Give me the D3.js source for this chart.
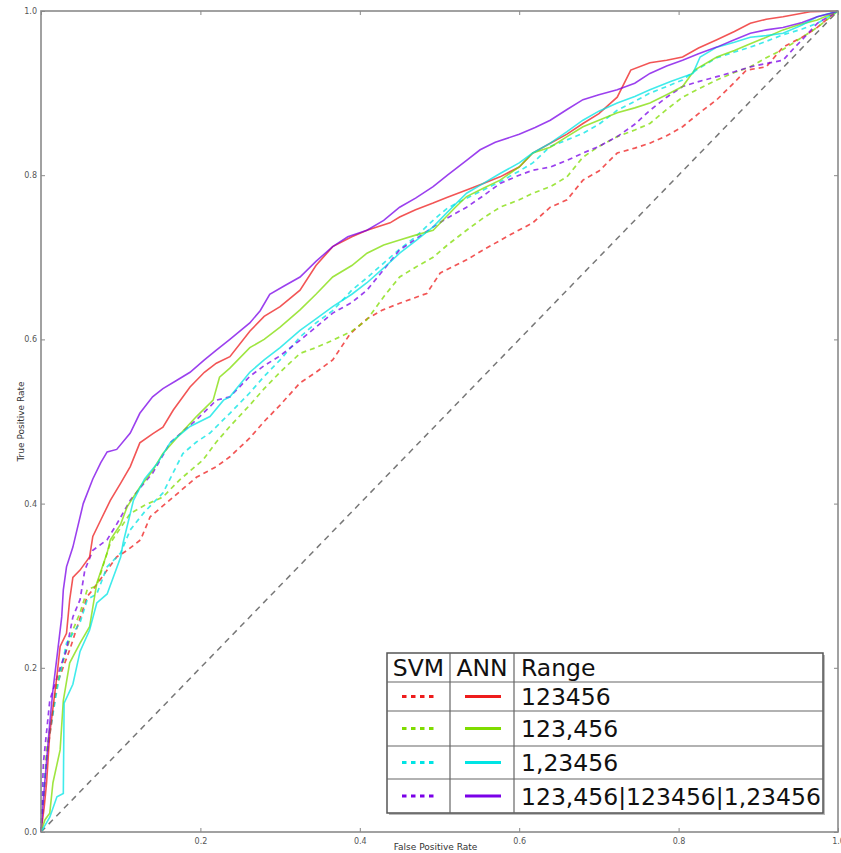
<!DOCTYPE html>
<html>
<head>
<meta charset="utf-8">
<script src="https://cdn.jsdelivr.net/npm/d3@7"></script>
<style>
  html, body { margin: 0; padding: 0; background: #fff; }
  svg { display: block; font-family: "DejaVu Sans", sans-serif; }
</style>
</head>
<body>
<svg id="chart" width="841" height="853"></svg>
<script>
// ROC curves: SVM (dashed) vs ANN (solid) for four digit-range groupings.
const ranges = ["123456", "123,456", "1,23456", "123,456|123456|1,23456"];
const colors = ["#ee1c1c", "#7fdc00", "#00e4e4", "#7a00e8"];

// ANN, range 123456
const annRedFpr = [0, 0.004, 0.007, 0.011, 0.02, 0.024, 0.032, 0.036, 0.04, 0.049, 0.061, 0.065, 0.075, 0.087, 0.1, 0.112, 0.124, 0.14, 0.153, 0.166, 0.187, 0.205, 0.22, 0.237, 0.262, 0.28, 0.3, 0.325, 0.345, 0.366, 0.39, 0.409, 0.438, 0.45, 0.47, 0.492, 0.51, 0.534, 0.555, 0.576, 0.6, 0.617, 0.639, 0.66, 0.68, 0.70, 0.723, 0.74, 0.764, 0.785, 0.805, 0.825, 0.848, 0.87, 0.89, 0.91, 0.931, 0.965, 1];
const annRedTpr = [0, 0.03, 0.06, 0.12, 0.19, 0.226, 0.242, 0.283, 0.31, 0.319, 0.335, 0.36, 0.38, 0.404, 0.425, 0.445, 0.474, 0.485, 0.493, 0.514, 0.542, 0.56, 0.571, 0.579, 0.61, 0.628, 0.64, 0.66, 0.69, 0.713, 0.725, 0.733, 0.742, 0.749, 0.758, 0.766, 0.773, 0.782, 0.79, 0.798, 0.81, 0.827, 0.839, 0.85, 0.863, 0.875, 0.895, 0.928, 0.937, 0.94, 0.944, 0.955, 0.965, 0.975, 0.985, 0.99, 0.993, 0.999, 1];

// ANN, range 123,456
const annGreenFpr = [0, 0.005, 0.011, 0.015, 0.024, 0.028, 0.036, 0.049, 0.061, 0.07, 0.083, 0.087, 0.1, 0.108, 0.124, 0.14, 0.153, 0.175, 0.195, 0.216, 0.224, 0.237, 0.262, 0.28, 0.3, 0.325, 0.345, 0.366, 0.39, 0.409, 0.43, 0.45, 0.47, 0.492, 0.52, 0.534, 0.555, 0.576, 0.6, 0.617, 0.639, 0.66, 0.68, 0.70, 0.723, 0.745, 0.764, 0.785, 0.805, 0.82, 0.848, 0.87, 0.89, 0.91, 0.931, 0.95, 0.974, 1];
const annGreenTpr = [0, 0.015, 0.023, 0.06, 0.1, 0.16, 0.206, 0.23, 0.25, 0.303, 0.34, 0.356, 0.375, 0.396, 0.42, 0.44, 0.461, 0.485, 0.506, 0.526, 0.554, 0.565, 0.59, 0.60, 0.615, 0.636, 0.655, 0.676, 0.69, 0.705, 0.715, 0.721, 0.727, 0.733, 0.761, 0.774, 0.784, 0.794, 0.81, 0.827, 0.834, 0.847, 0.859, 0.867, 0.876, 0.882, 0.888, 0.898, 0.908, 0.928, 0.944, 0.952, 0.96, 0.968, 0.977, 0.983, 0.989, 1];

// ANN, range 1,23456
const annCyanFpr = [0, 0.005, 0.011, 0.02, 0.028, 0.029, 0.04, 0.049, 0.061, 0.07, 0.083, 0.1, 0.103, 0.116, 0.13, 0.146, 0.162, 0.187, 0.212, 0.229, 0.237, 0.262, 0.28, 0.3, 0.325, 0.345, 0.366, 0.39, 0.409, 0.43, 0.45, 0.47, 0.492, 0.51, 0.534, 0.555, 0.576, 0.6, 0.617, 0.639, 0.66, 0.68, 0.70, 0.723, 0.745, 0.764, 0.79, 0.818, 0.827, 0.848, 0.87, 0.89, 0.91, 0.931, 0.955, 0.974, 1];
const annCyanTpr = [0, 0.008, 0.018, 0.043, 0.047, 0.157, 0.18, 0.22, 0.246, 0.279, 0.29, 0.335, 0.352, 0.404, 0.43, 0.449, 0.474, 0.494, 0.506, 0.526, 0.53, 0.56, 0.575, 0.59, 0.611, 0.625, 0.64, 0.655, 0.669, 0.687, 0.705, 0.72, 0.737, 0.755, 0.778, 0.79, 0.802, 0.815, 0.827, 0.839, 0.853, 0.867, 0.878, 0.888, 0.896, 0.904, 0.914, 0.924, 0.944, 0.956, 0.962, 0.968, 0.97, 0.973, 0.983, 0.993, 1];

// ANN, combined ranges
const annPurpleFpr = [0, 0.003, 0.011, 0.015, 0.02, 0.026, 0.028, 0.032, 0.04, 0.053, 0.065, 0.075, 0.083, 0.095, 0.112, 0.124, 0.14, 0.153, 0.17, 0.187, 0.205, 0.22, 0.237, 0.262, 0.275, 0.287, 0.305, 0.325, 0.345, 0.366, 0.385, 0.409, 0.43, 0.45, 0.47, 0.492, 0.51, 0.534, 0.551, 0.57, 0.6, 0.62, 0.639, 0.66, 0.68, 0.70, 0.723, 0.745, 0.764, 0.785, 0.805, 0.825, 0.848, 0.87, 0.89, 0.91, 0.931, 0.955, 0.974, 0.99, 1];
const annPurpleTpr = [0, 0.04, 0.133, 0.173, 0.213, 0.262, 0.295, 0.323, 0.347, 0.40, 0.43, 0.45, 0.463, 0.466, 0.486, 0.51, 0.53, 0.54, 0.55, 0.56, 0.575, 0.587, 0.60, 0.62, 0.635, 0.655, 0.665, 0.676, 0.695, 0.713, 0.725, 0.733, 0.745, 0.761, 0.772, 0.786, 0.80, 0.818, 0.831, 0.84, 0.85, 0.858, 0.867, 0.88, 0.892, 0.898, 0.904, 0.912, 0.924, 0.933, 0.94, 0.948, 0.956, 0.965, 0.973, 0.977, 0.98, 0.986, 0.993, 0.997, 1];

// SVM, range 123456
const svmRedFpr = [0, 0.004, 0.007, 0.02, 0.036, 0.058, 0.065, 0.083, 0.095, 0.108, 0.125, 0.137, 0.166, 0.195, 0.22, 0.237, 0.262, 0.28, 0.3, 0.325, 0.345, 0.366, 0.388, 0.409, 0.429, 0.45, 0.484, 0.501, 0.534, 0.555, 0.584, 0.617, 0.639, 0.66, 0.68, 0.70, 0.723, 0.745, 0.764, 0.785, 0.805, 0.825, 0.848, 0.869, 0.885, 0.91, 0.931, 0.955, 0.974, 0.995, 1];
const svmRedTpr = [0, 0.05, 0.09, 0.18, 0.222, 0.287, 0.295, 0.319, 0.335, 0.343, 0.356, 0.384, 0.408, 0.432, 0.445, 0.457, 0.48, 0.5, 0.52, 0.547, 0.56, 0.575, 0.607, 0.625, 0.636, 0.644, 0.656, 0.681, 0.697, 0.709, 0.725, 0.742, 0.761, 0.77, 0.794, 0.805, 0.827, 0.833, 0.839, 0.848, 0.859, 0.875, 0.892, 0.912, 0.928, 0.932, 0.956, 0.968, 0.98, 0.997, 1];

// SVM, range 123,456
const svmGreenFpr = [0, 0.004, 0.007, 0.02, 0.032, 0.04, 0.049, 0.058, 0.07, 0.083, 0.087, 0.112, 0.13, 0.153, 0.174, 0.203, 0.22, 0.237, 0.262, 0.28, 0.3, 0.325, 0.345, 0.366, 0.39, 0.409, 0.43, 0.45, 0.47, 0.492, 0.51, 0.534, 0.555, 0.576, 0.6, 0.617, 0.639, 0.66, 0.68, 0.70, 0.723, 0.745, 0.764, 0.785, 0.805, 0.825, 0.848, 0.87, 0.89, 0.91, 0.931, 0.955, 0.974, 1];
const svmGreenTpr = [0, 0.05, 0.1, 0.18, 0.222, 0.246, 0.267, 0.295, 0.3, 0.34, 0.352, 0.388, 0.398, 0.408, 0.429, 0.453, 0.475, 0.494, 0.52, 0.54, 0.56, 0.583, 0.59, 0.599, 0.61, 0.624, 0.652, 0.676, 0.688, 0.7, 0.715, 0.733, 0.748, 0.761, 0.77, 0.778, 0.786, 0.798, 0.822, 0.835, 0.847, 0.855, 0.863, 0.88, 0.895, 0.905, 0.916, 0.925, 0.932, 0.943, 0.953, 0.968, 0.98, 1];

// SVM, range 1,23456
const svmCyanFpr = [0, 0.004, 0.011, 0.02, 0.032, 0.049, 0.058, 0.07, 0.083, 0.1, 0.112, 0.13, 0.153, 0.178, 0.195, 0.212, 0.237, 0.262, 0.28, 0.3, 0.325, 0.345, 0.366, 0.39, 0.409, 0.43, 0.45, 0.47, 0.492, 0.51, 0.534, 0.555, 0.576, 0.6, 0.617, 0.639, 0.66, 0.68, 0.70, 0.723, 0.745, 0.764, 0.785, 0.805, 0.825, 0.848, 0.87, 0.89, 0.91, 0.931, 0.955, 0.974, 1];
const svmCyanTpr = [0, 0.06, 0.12, 0.173, 0.23, 0.255, 0.283, 0.29, 0.323, 0.34, 0.368, 0.39, 0.413, 0.461, 0.475, 0.486, 0.51, 0.535, 0.555, 0.575, 0.603, 0.62, 0.635, 0.66, 0.675, 0.693, 0.71, 0.725, 0.745, 0.76, 0.772, 0.782, 0.792, 0.805, 0.815, 0.835, 0.843, 0.851, 0.862, 0.879, 0.89, 0.9, 0.908, 0.916, 0.93, 0.943, 0.95, 0.956, 0.963, 0.971, 0.978, 0.985, 1];

// SVM, combined ranges
const svmPurpleFpr = [0, 0.003, 0.011, 0.024, 0.032, 0.04, 0.049, 0.055, 0.065, 0.083, 0.095, 0.112, 0.125, 0.14, 0.162, 0.178, 0.195, 0.22, 0.237, 0.262, 0.28, 0.3, 0.325, 0.345, 0.366, 0.39, 0.409, 0.43, 0.45, 0.47, 0.492, 0.51, 0.534, 0.555, 0.576, 0.6, 0.617, 0.639, 0.66, 0.68, 0.70, 0.723, 0.745, 0.764, 0.785, 0.805, 0.825, 0.848, 0.87, 0.89, 0.91, 0.931, 0.945, 0.955, 0.974, 1];
const svmPurpleTpr = [0, 0.084, 0.16, 0.2, 0.222, 0.262, 0.283, 0.319, 0.343, 0.356, 0.375, 0.404, 0.42, 0.437, 0.474, 0.488, 0.502, 0.526, 0.53, 0.555, 0.568, 0.58, 0.599, 0.615, 0.632, 0.645, 0.66, 0.685, 0.709, 0.722, 0.737, 0.748, 0.761, 0.775, 0.79, 0.8, 0.806, 0.81, 0.818, 0.827, 0.835, 0.847, 0.862, 0.879, 0.895, 0.908, 0.914, 0.92, 0.926, 0.932, 0.936, 0.94, 0.955, 0.965, 0.985, 1];

const tickValues = [0, 0.2, 0.4, 0.6, 0.8, 1.0];
const xLabel = "False Positive Rate";
const yLabel = "True Positive Rate";

const svmSeries = [[svmRedFpr, svmRedTpr], [svmGreenFpr, svmGreenTpr], [svmCyanFpr, svmCyanTpr], [svmPurpleFpr, svmPurpleTpr]];
const annSeries = [[annRedFpr, annRedTpr], [annGreenFpr, annGreenTpr], [annCyanFpr, annCyanTpr], [annPurpleFpr, annPurpleTpr]];

const svg = d3.select("#chart");
const plotLeft = 41, plotRight = 838, plotTop = 11, plotBottom = 832;
const x = d3.scaleLinear().domain([0, 1]).range([plotLeft, plotRight]);
const y = d3.scaleLinear().domain([0, 1]).range([plotBottom, plotTop]);

const line = d3.line().x(d => x(d[0])).y(d => y(d[1]));
const toPoints = ([f, t]) => f.map((v, i) => [v, t[i]]);

const plot = svg.append("g");

// chance diagonal
plot.append("path")
  .datum([[0, 0], [1, 1]])
  .attr("d", line)
  .attr("fill", "none")
  .attr("stroke", "#777")
  .attr("stroke-width", 1.5)
  .attr("stroke-dasharray", "6,5");

// SVM curves (dashed)
svmSeries.forEach((s, i) => {
  plot.append("path")
    .datum(toPoints(s))
    .attr("d", line)
    .attr("fill", "none")
    .attr("stroke", colors[i])
    .attr("stroke-opacity", 0.75)
    .attr("stroke-width", 1.7)
    .attr("stroke-dasharray", "5,4");
});

// ANN curves (solid)
annSeries.forEach((s, i) => {
  plot.append("path")
    .datum(toPoints(s))
    .attr("d", line)
    .attr("fill", "none")
    .attr("stroke", colors[i])
    .attr("stroke-opacity", 0.75)
    .attr("stroke-width", 1.6);
});

// axes: ticks point inward on all four sides
const fmt = d3.format(".1f");
function styleAxis(g) {
  g.select(".domain").remove();
  g.selectAll(".tick line").attr("stroke", "#888").attr("stroke-width", 1);
  g.selectAll(".tick text").attr("fill", "#555").style("font-size", "8px").style("font-family", "DejaVu Sans");
}
svg.append("g").attr("transform", `translate(0,${plotBottom})`)
  .call(d3.axisBottom(x).tickValues(tickValues).tickSize(-4).tickPadding(6)
    .tickFormat(d => d === 0 ? "" : fmt(d)))
  .call(styleAxis);
svg.append("g").attr("transform", `translate(0,${plotTop})`)
  .call(d3.axisTop(x).tickValues(tickValues).tickSize(-4).tickFormat(""))
  .call(styleAxis);
svg.append("g").attr("transform", `translate(${plotLeft},0)`)
  .call(d3.axisLeft(y).tickValues(tickValues).tickSize(-4).tickPadding(4).tickFormat(fmt))
  .call(styleAxis);
svg.append("g").attr("transform", `translate(${plotRight},0)`)
  .call(d3.axisRight(y).tickValues(tickValues).tickSize(-4).tickFormat(""))
  .call(styleAxis);

// frame
svg.append("rect")
  .attr("x", plotLeft).attr("y", plotTop)
  .attr("width", plotRight - plotLeft).attr("height", plotBottom - plotTop)
  .attr("fill", "none").attr("stroke", "#8a8a8a").attr("stroke-width", 1.6);

// axis titles
svg.append("text")
  .attr("x", (plotLeft + plotRight) / 2 - 4).attr("y", 850)
  .attr("text-anchor", "middle")
  .attr("fill", "#333").style("font-size", "9px")
  .text(xLabel);
svg.append("text")
  .attr("transform", `translate(24,${(plotTop + plotBottom) / 2}) rotate(-90)`)
  .attr("text-anchor", "middle")
  .attr("fill", "#333").style("font-size", "9px")
  .text(yLabel);

// legend table
const lg = svg.append("g");
const lx0 = 387, lx1 = 450, lx2 = 514, lx3 = 823;
const rowEdges = [653, 682, 711, 746, 779, 813];
lg.append("rect")
  .attr("x", lx0 + 2).attr("y", rowEdges[0] + 2)
  .attr("width", lx3 - lx0).attr("height", rowEdges[5] - rowEdges[0])
  .attr("fill", "#bbb");
lg.append("rect")
  .attr("x", lx0).attr("y", rowEdges[0])
  .attr("width", lx3 - lx0).attr("height", rowEdges[5] - rowEdges[0])
  .attr("fill", "#fff").attr("stroke", "#555").attr("stroke-width", 1.5);
rowEdges.slice(1, 5).forEach(ry => {
  lg.append("line").attr("x1", lx0).attr("x2", lx3).attr("y1", ry).attr("y2", ry)
    .attr("stroke", "#666").attr("stroke-width", 1.2);
});
[lx1, lx2].forEach(cx => {
  lg.append("line").attr("x1", cx).attr("x2", cx).attr("y1", rowEdges[0]).attr("y2", rowEdges[5])
    .attr("stroke", "#666").attr("stroke-width", 1.2);
});
const headFont = "23.5px";
const headBase = 676;
[["SVM", (lx0 + lx1) / 2, "middle"], ["ANN", (lx1 + lx2) / 2, "middle"], ["Range", 521, "start"]]
  .forEach(([t, tx, anchor]) => {
    lg.append("text").attr("x", tx).attr("y", headBase).attr("text-anchor", anchor)
      .attr("fill", "#111").style("font-size", headFont).text(t);
  });
ranges.forEach((r, i) => {
  const cy = (rowEdges[i + 1] + rowEdges[i + 2]) / 2;
  lg.append("line").attr("x1", 402).attr("x2", 436).attr("y1", cy).attr("y2", cy)
    .attr("stroke", colors[i]).attr("stroke-width", 3.2).attr("stroke-dasharray", "4.5,4.5");
  lg.append("line").attr("x1", 465).attr("x2", 501).attr("y1", cy).attr("y2", cy)
    .attr("stroke", colors[i]).attr("stroke-width", 3.2);
  lg.append("text").attr("x", 521).attr("y", cy + 8.5)
    .attr("fill", "#111").style("font-size", headFont).text(r);
});
</script>
</body>
</html>
